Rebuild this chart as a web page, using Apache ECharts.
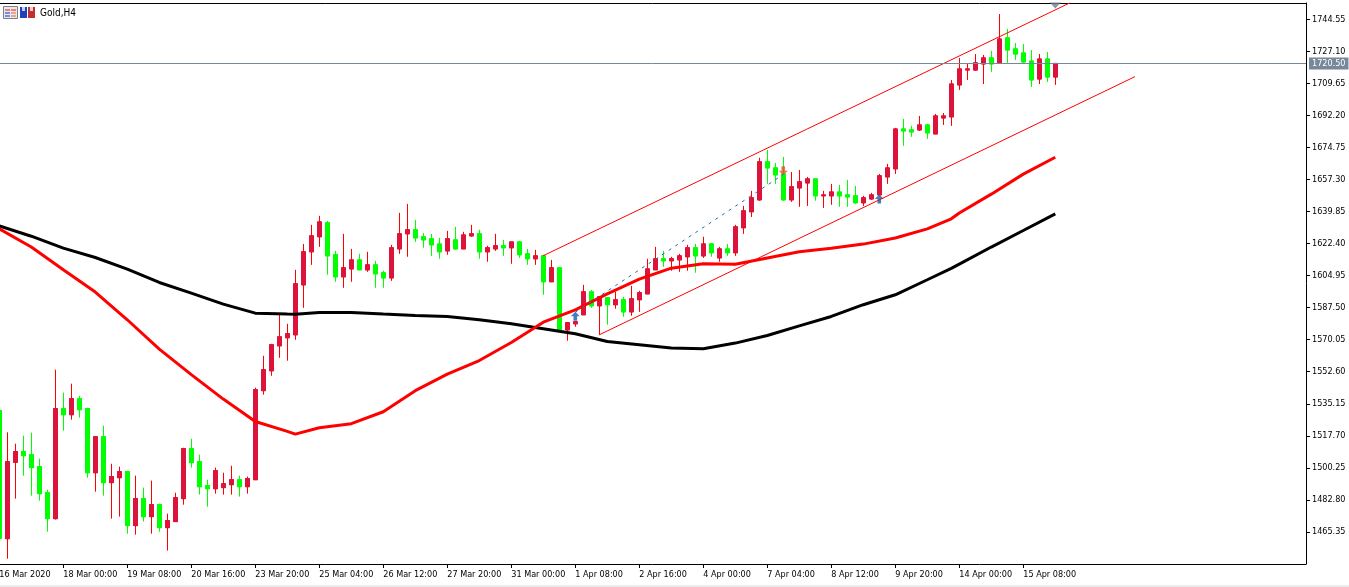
<!DOCTYPE html>
<html>
<head>
<meta charset="utf-8">
<title>Gold,H4</title>
<style>
html, body { margin: 0; padding: 0; background: #fff; }
#chart { width: 1349px; height: 587px; }
</style>
<script src="https://cdn.jsdelivr.net/npm/echarts@6/dist/echarts.min.js"></script>
</head>
<body>
<div id="chart"></div>
<script>
// one bar per 4 hours, index = position on the x axis
var opens = [
    1531.4,1461.7,1503.3,1509.1,1507.4,1500.9,1486.7,1472.6,1532.5,1529.2,
    1537.9,1532.5,1497.6,1517.2,1492.2,1494.9,1498.2,1468.8,1483.5,1473.7,
    1480.2,1467.7,1471.0,1483.5,1510.7,1503.6,1490.6,1488.9,1489.5,1491.1,
    1493.8,1490.0,1493.8,1542.3,1553.1,1566.7,1571.1,1572.7,1599.9,1617.9,
    1626.1,1633.7,1616.3,1604.3,1608.6,1613.5,1608.1,1610.8,1606.5,1603.7,
    1619.5,1627.7,1629.9,1626.1,1625.0,1622.2,1618.4,1624.4,1619.5,1626.6,
    1627.7,1617.9,1619.5,1621.2,1620.1,1623.3,1616.8,1614.1,1615.7,1601.6,
    1609.2,1575.4,1578.7,1583.6,1596.1,1588.5,1592.9,1589.1,1591.8,1585.2,
    1591.8,1595.0,1608.1,1614.1,1613.0,1613.5,1615.2,1620.1,1615.7,1622.2,
    1614.6,1619.5,1617.4,1631.0,1639.7,1646.2,1666.9,1663.6,1660.3,1646.2,
    1652.7,1655.4,1657.6,1648.4,1648.4,1650.5,1648.9,1648.4,1644.6,1646.7,
    1648.9,1658.7,1663.1,1684.8,1684.3,1684.3,1687.0,1682.1,1690.8,1691.4,
    1708.8,1716.9,1716.9,1720.2,1723.5,1720.8,1734.4,1728.4,1726.2,1721.8,
    1712.0,1722.9,1713.1
];
var closes = [
    1461.9,1503.6,1509.1,1506.9,1500.4,1486.2,1472.6,1532.5,1529.2,1537.9,
    1531.9,1497.6,1517.2,1492.2,1495.5,1498.2,1468.8,1483.5,1473.7,1480.2,
    1467.7,1471.5,1484.0,1510.7,1503.1,1490.0,1488.9,1498.7,1491.6,1493.8,
    1490.0,1494.4,1542.8,1553.7,1567.3,1571.6,1573.3,1600.5,1617.9,1626.6,
    1634.2,1615.7,1604.3,1609.2,1613.5,1608.1,1610.8,1605.9,1603.7,1620.1,
    1627.7,1629.9,1625.5,1624.4,1621.7,1617.9,1625.0,1619.5,1627.1,1627.7,
    1617.9,1620.1,1621.2,1620.1,1623.3,1616.3,1614.1,1615.7,1601.6,1609.2,
    1575.4,1579.3,1579.8,1596.1,1588.5,1593.4,1589.1,1591.8,1585.2,1592.3,
    1595.6,1608.6,1614.1,1613.0,1614.1,1615.7,1620.1,1615.7,1622.2,1617.4,
    1619.5,1617.4,1631.5,1640.2,1647.3,1666.9,1663.6,1659.8,1646.2,1653.3,
    1656.0,1657.6,1648.4,1648.9,1650.5,1648.4,1647.8,1644.6,1647.3,1648.9,
    1659.3,1663.6,1684.8,1683.7,1683.2,1687.0,1682.7,1691.9,1691.9,1709.3,
    1717.5,1717.5,1720.8,1723.5,1720.2,1733.8,1727.8,1725.6,1721.3,1711.5,
    1722.9,1713.1,1720.5
];
var lows = [
    1461.0,1450.8,1483.5,1496.0,1485.1,1482.4,1465.5,1472.1,1520.5,1526.5,
    1527.6,1494.9,1487.3,1485.1,1472.6,1473.7,1464.4,1463.9,1471.0,1464.4,
    1465.5,1455.2,1471.0,1480.2,1500.4,1485.7,1479.1,1486.2,1485.7,1485.7,
    1484.6,1486.2,1493.8,1540.1,1550.4,1560.2,1558.6,1570.0,1587.4,1610.8,
    1620.6,1605.4,1601.6,1598.3,1601.6,1608.1,1607.0,1598.3,1598.3,1602.1,
    1616.8,1615.2,1623.3,1620.1,1615.7,1614.1,1616.3,1619.0,1619.5,1626.1,
    1614.1,1612.5,1618.4,1615.7,1611.4,1614.6,1610.8,1610.8,1594.5,1601.6,
    1575.4,1569.5,1577.1,1583.6,1587.4,1572.7,1578.2,1586.9,1582.5,1583.1,
    1585.2,1595.0,1608.1,1609.7,1607.6,1607.0,1607.6,1606.5,1614.6,1615.2,
    1612.5,1615.7,1615.7,1627.7,1636.9,1645.7,1654.9,1654.9,1645.7,1645.1,
    1642.4,1642.9,1645.7,1641.8,1643.5,1642.4,1642.4,1644.0,1642.9,1646.2,
    1648.9,1654.9,1660.3,1675.6,1680.5,1683.7,1679.4,1682.1,1687.0,1686.5,
    1706.1,1711.5,1716.4,1709.3,1715.9,1720.8,1720.8,1722.4,1720.2,1707.7,
    1709.3,1710.4,1708.8
];
var highs = [
    1532.0,1519.6,1513.4,1517.8,1519.4,1505.2,1488.4,1553.7,1541.2,1546.1,
    1539.5,1533.0,1517.2,1523.2,1502.5,1500.9,1498.7,1496.0,1489.5,1493.3,
    1480.8,1475.3,1486.7,1511.2,1516.1,1507.4,1493.8,1500.4,1497.6,1501.4,
    1496.0,1495.5,1543.9,1561.3,1567.8,1583.6,1578.7,1608.1,1622.2,1632.6,
    1637.5,1634.8,1618.4,1627.7,1619.5,1616.8,1617.9,1613.0,1607.6,1621.7,
    1639.1,1644.0,1635.3,1628.2,1627.7,1625.5,1629.3,1631.5,1628.8,1632.6,
    1629.9,1621.2,1627.7,1624.4,1623.3,1623.9,1619.5,1619.0,1616.3,1613.5,
    1609.2,1579.3,1579.8,1599.9,1597.2,1593.4,1592.9,1596.1,1593.4,1599.4,
    1596.7,1614.1,1620.6,1618.4,1615.2,1616.8,1621.7,1622.2,1626.1,1622.8,
    1620.6,1622.2,1632.6,1642.9,1651.1,1669.1,1673.4,1666.3,1669.6,1661.4,
    1662.5,1658.7,1657.6,1651.1,1654.9,1654.4,1657.1,1653.8,1648.4,1650.0,
    1660.3,1665.8,1685.4,1690.3,1686.5,1691.9,1687.6,1693.0,1693.5,1711.5,
    1723.5,1720.2,1725.6,1725.1,1727.3,1747.4,1739.3,1731.6,1731.1,1727.8,
    1725.6,1726.7,1720.5
];

var maBars = [0,4,8,12,16,20,24,28,32,36,37,40,44,48,52,56,60,64,68,72,76,80,84,88,92,96,100,104,108,112,116,119,120,124,128,132];
var redMa = [1630.4,1620.5,1608.1,1596.0,1580.9,1564.9,1551.0,1537.7,1525.5,1520.1,1518.6,1522.1,1524.3,1530.8,1542.3,1551.3,1558.7,1568.5,1579.6,1586.3,1595.0,1603.0,1609.0,1611.4,1611.1,1614.5,1617.9,1619.9,1622.1,1625.4,1630.4,1635.9,1639.0,1649.3,1660.2,1669.4];
var blackMa = [1632.0,1626.4,1619.9,1614.8,1608.5,1601.2,1595.4,1589.4,1584.5,1584.0,1583.9,1584.9,1584.9,1584.0,1583.2,1582.7,1580.9,1578.7,1576.0,1573.3,1569.1,1567.3,1565.5,1565.1,1568.2,1572.3,1577.6,1582.7,1589.1,1594.5,1602.7,1608.9,1611.2,1620.5,1629.5,1638.6];

// price channel and trade line, [bar, price]
var channelUpper = [[68, 1615.8], [133.84, 1753.5]];
var channelLower = [[75, 1572.7], [141.96, 1713.3]];
var tradeLine = [[72, 1585.0], [98, 1660.0]];
var buyArrows = [[72, 1582.8], [110, 1646.7]];
var sellArrows = [[98, 1662.0]];
var lastPriceMark = [[132, 1752.0]];
var lastPrice = 1720.5;

var priceTicks = [1744.55,1727.10,1709.65,1692.20,1674.75,1657.30,1639.85,1622.40,1604.95,1587.50,1570.05,1552.60,1535.15,1517.70,1500.25,1482.80,1465.35];
var dateBars = [0,8,16,24,32,40,48,56,64,72,80,88,96,104,112,120,128];
var dateLabels = ['16 Mar 2020','18 Mar 00:00','19 Mar 08:00','20 Mar 16:00','23 Mar 20:00','25 Mar 04:00','26 Mar 12:00','27 Mar 20:00','31 Mar 00:00','1 Apr 08:00','2 Apr 16:00','4 Apr 00:00','7 Apr 04:00','8 Apr 12:00','9 Apr 20:00','14 Apr 00:00','15 Apr 08:00'];

var font = '"DejaVu Sans Condensed", "Liberation Sans", sans-serif';
var upColor = '#dc143c', downColor = '#00ff00', wickUp = '#ff0000';
var grey = '#778899';
var xMax = 163.34;

var wicks = [], bodies = [], maRed = [], maBlack = [];
opens.forEach(function (o, i) {
    wicks.push([i, o, closes[i], lows[i], highs[i]]);
    bodies.push([i, o, closes[i], Math.min(o, closes[i]), Math.max(o, closes[i])]);
});
maBars.forEach(function (b, i) {
    maRed.push([b, redMa[i]]);
    maBlack.push([b, blackMa[i]]);
});

function candles(data, up, down, width) {
    return {
        type: 'candlestick',
        data: data,
        encode: {x: 0, y: [1, 2, 3, 4]},
        barWidth: width,
        silent: true,
        itemStyle: {color: up, color0: down, borderColor: up, borderColor0: down, borderWidth: 1}
    };
}

function line(data, color, width, dash) {
    return {
        type: 'line',
        data: data,
        symbol: 'none',
        silent: true,
        lineStyle: {color: color, width: width, type: dash || 'solid'}
    };
}

var upArrow = 'path://M5 0L10 5L7 5L7 10L3 10L3 5L0 5Z';
var downArrow = 'path://M3 0L7 0L7 5L10 5L5 10L0 5L3 5Z';

function marks(data, symbol, color, size) {
    return {type: 'scatter', data: data, symbol: symbol, symbolSize: size, silent: true, itemStyle: {color: color}};
}

var myChart = echarts.init(document.getElementById('chart'));

myChart.setOption({
    animation: false,
    backgroundColor: '#fff',
    title: {
        text: 'Gold,H4',
        left: 40,
        top: 8,
        padding: 0,
        textStyle: {fontFamily: font, fontSize: 10, fontWeight: 'normal', color: '#000'}
    },
    grid: {left: -0.7, top: 3, width: 1306.7, bottom: 23, outerBoundsMode: 'none'},
    xAxis: [{
        type: 'value',
        min: 0,
        max: xMax,
        splitLine: {show: false},
        axisLine: {onZero: false, lineStyle: {color: '#000', width: 1}},
        axisTick: {customValues: dateBars, length: 4, lineStyle: {color: '#000'}},
        axisLabel: {
            customValues: dateBars,
            align: 'left',
            margin: 6,
            color: '#000',
            fontFamily: font,
            fontSize: 9,
            hideOverlap: false,
            formatter: function (v) { return dateLabels[dateBars.indexOf(v)]; }
        }
    }, {
        type: 'value',
        position: 'top',
        min: 0,
        max: xMax,
        splitLine: {show: false},
        axisLine: {show: true, onZero: false, lineStyle: {color: '#000', width: 1}},
        axisTick: {show: false},
        axisLabel: {show: false}
    }],
    yAxis: {
        type: 'value',
        position: 'right',
        min: 1447.9,
        max: 1753.4,
        splitLine: {show: false},
        axisLine: {show: true, onZero: false, lineStyle: {color: '#000', width: 1}},
        axisTick: {show: true, customValues: priceTicks, length: 4, lineStyle: {color: '#000'}},
        axisLabel: {
            customValues: priceTicks,
            margin: 6,
            padding: [2, 0, 0, 0],
            color: '#000',
            fontFamily: font,
            fontSize: 9,
            formatter: function (v) { return v.toFixed(2); }
        }
    },
    graphic: [
        // chart window icons, top left
        {type: 'rect', shape: {x: 3.5, y: 6.5, width: 14, height: 12}, style: {fill: '#e8e8f0', stroke: '#7f7f7f'}},
        {type: 'rect', shape: {x: 5, y: 9, width: 5, height: 2}, style: {fill: '#f08070'}},
        {type: 'rect', shape: {x: 11, y: 9, width: 5, height: 2}, style: {fill: '#f08070'}},
        {type: 'rect', shape: {x: 5, y: 12, width: 5, height: 2}, style: {fill: '#7090e0'}},
        {type: 'rect', shape: {x: 11, y: 12, width: 5, height: 2}, style: {fill: '#f0a090'}},
        {type: 'rect', shape: {x: 5, y: 15, width: 5, height: 2}, style: {fill: '#7090e0'}},
        {type: 'rect', shape: {x: 11, y: 15, width: 5, height: 2}, style: {fill: '#f0a090'}},
        {type: 'rect', shape: {x: 20, y: 7, width: 7, height: 11}, style: {fill: '#2040c0'}},
        {type: 'rect', shape: {x: 22, y: 7, width: 3, height: 4}, style: {fill: '#c0d0f0'}},
        {type: 'rect', shape: {x: 28, y: 7, width: 7, height: 11}, style: {fill: '#c03030'}},
        {type: 'rect', shape: {x: 30, y: 7, width: 3, height: 4}, style: {fill: '#f0d0d0'}},
        // strip under the chart
        {type: 'rect', shape: {x: 0, y: 585, width: 1349, height: 2}, style: {fill: '#ececec'}}
    ],
    series: [
        candles(wicks, wickUp, downColor, 4),
        candles(bodies, upColor, downColor, 4),
        line(channelUpper, '#ff0000', 1),
        line(channelLower, '#ff0000', 1),
        line(maBlack, '#000000', 3),
        line(maRed, '#ff0000', 3),
        line(tradeLine, '#1e6fb5', 1, [3, 5]),
        marks(buyArrows, upArrow, '#0f5fb0', 9),
        marks(sellArrows, downArrow, '#e0502a', 9),
        marks(lastPriceMark, 'path://M0 0L10 0L5 5Z', '#6f7d8c', [11, 6]),
        {
            type: 'line',
            data: [],
            markLine: {
                silent: true,
                symbol: 'none',
                animation: false,
                lineStyle: {color: grey, width: 1, type: 'solid'},
                label: {
                    position: 'end',
                    distance: 3,
                    color: '#fff',
                    backgroundColor: grey,
                    padding: [2, 3, 1, 3],
                    fontFamily: font,
                    fontSize: 9,
                    formatter: function (p) { return p.value.toFixed(2); }
                },
                data: [{yAxis: lastPrice}]
            }
        }
    ]
});
</script>
</body>
</html>
